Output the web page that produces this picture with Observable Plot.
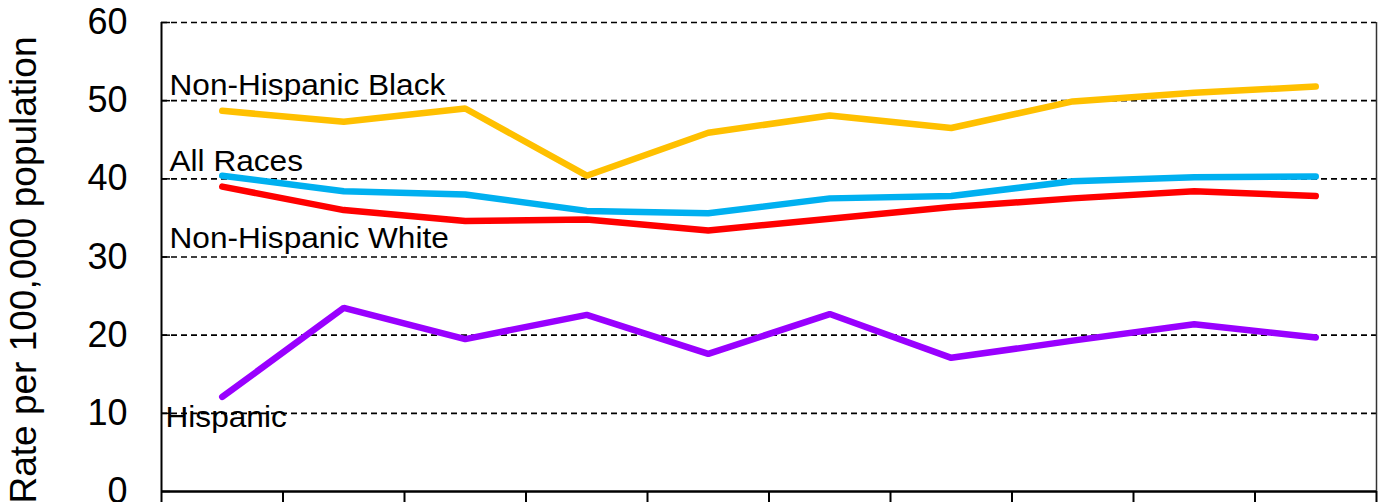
<!DOCTYPE html>
<html>
<head>
<meta charset="utf-8">
<script src="https://cdn.jsdelivr.net/npm/d3@7"></script>
<script src="https://cdn.jsdelivr.net/npm/@observablehq/plot@0.6"></script>
<style>
  html, body { margin: 0; padding: 0; background: #fff; }
  #chart { width: 1378px; height: 502px; overflow: hidden; }
</style>
</head>
<body>
<div id="chart"></div>
<script>
// Categories (x-axis labels are cropped off in the reference)
const years = ["2005", "2006", "2007", "2008", "2009", "2010", "2011", "2012", "2013", "2014"];

// Series values (rate per 100,000 population)
const nonHispanicBlack = [48.7, 47.3, 49.0, 40.4, 45.9, 48.1, 46.5, 49.9, 51.0, 51.8];
const allRaces         = [40.4, 38.4, 38.0, 35.9, 35.6, 37.5, 37.8, 39.7, 40.2, 40.3];
const nonHispanicWhite = [39.0, 36.0, 34.6, 34.8, 33.4, 34.9, 36.4, 37.5, 38.4, 37.8];
const hispanic         = [12.1, 23.5, 19.5, 22.6, 17.6, 22.7, 17.1, 19.3, 21.4, 19.7];

const seriesNames  = ["Non-Hispanic Black", "All Races", "Non-Hispanic White", "Hispanic"];
const seriesValues = [nonHispanicBlack, allRaces, nonHispanicWhite, hispanic];
const seriesColors = ["#FFC000", "#00B0F0", "#FF0000", "#9900FF"];

// Gridline each series label sits on
const labelLevels = [50, 40, 30, 10];
const labelDy     = [-6, -8, -9, 14];
const labelDx     = [8, 8, 8, 4];

// Y ticks
const yTicks = [0, 10, 20, 30, 40, 50, 60];
const gridTicks = [10, 20, 30, 40, 50, 60];
const yTitle = "Rate per 100,000 population";

// Build long table
const rows = [];
seriesNames.forEach((name, s) => {
  years.forEach((yr, i) => rows.push({series: name, year: yr, idx: i + 1, value: seriesValues[s][i]}));
});
const xBounds = d3.range(0.5, years.length + 1, 1);

const labelMarks = seriesNames.map((name, s) =>
  Plot.text([name], {
    y: () => labelLevels[s],
    frameAnchor: "left",
    textAnchor: "start",
    lineAnchor: "bottom",
    dx: labelDx[s],
    dy: labelDy[s],
    fontSize: 29,
    fill: "black",
    ariaDescription: "series-label"
  })
);

const plot = Plot.plot({
  width: 1378,
  height: 502,
  marginLeft: 161,
  marginRight: 2,
  marginTop: 22,
  marginBottom: 11,
  style: {fontFamily: "'Liberation Sans', Arial, sans-serif", background: "white", color: "black"},
  x: {type: "linear", domain: [0.5, years.length + 0.5]},
  y: {domain: [0, 60]},
  color: {domain: seriesNames, range: seriesColors},
  marks: [
    // dashed gridlines
    Plot.ruleY(gridTicks, {stroke: "black", strokeWidth: 1.6, strokeDasharray: "6,4"}),
    // inward tick marks on the y axis
    Plot.tickY(yTicks, {y: d => d, stroke: "black", strokeWidth: 1.5, insetRight: 1206}),
    // frame: left, right, bottom
    Plot.ruleX([0.5], {stroke: "black", strokeWidth: 2}),
    Plot.ruleX([years.length + 0.5], {stroke: "#333", strokeWidth: 1.5}),
    Plot.ruleY([0], {stroke: "black", strokeWidth: 2.5}),
    // axes
    Plot.axisY({ticks: yTicks, tickSize: 0, tickPadding: 34, fontSize: 36, label: null}),
    Plot.axisX({ticks: xBounds, tickSize: 11, tickFormat: () => "", label: null, stroke: "black", strokeWidth: 2}),
    // y title
    Plot.text([yTitle], {
      frameAnchor: "left", rotate: -90, textAnchor: "middle", lineAnchor: "bottom",
      dx: -126, dy: 13, fontSize: 37, fill: "black"
    }),
    // series lines
    Plot.line(rows, {x: "idx", y: "value", z: "series", stroke: "series", strokeWidth: 6.5, strokeLinecap: "round", strokeLinejoin: "miter"}),
    ...labelMarks
  ]
});

document.getElementById("chart").appendChild(plot);

// slight horizontal stretch of the series labels, as in the reference
function stretch(selector, sx) {
  plot.querySelectorAll(selector).forEach(t => {
    const tr = t.getAttribute("transform");
    if (tr) {
      t.setAttribute("transform", tr + ` scale(${sx},1)`);
    } else {
      const x = +(t.getAttribute("x") || 0), y = +(t.getAttribute("y") || 0);
      t.setAttribute("transform", `translate(${x},${y}) scale(${sx},1) translate(${-x},${-y})`);
    }
  });
}
stretch('g[aria-description="series-label"] text', 1.09);
</script>
</body>
</html>
